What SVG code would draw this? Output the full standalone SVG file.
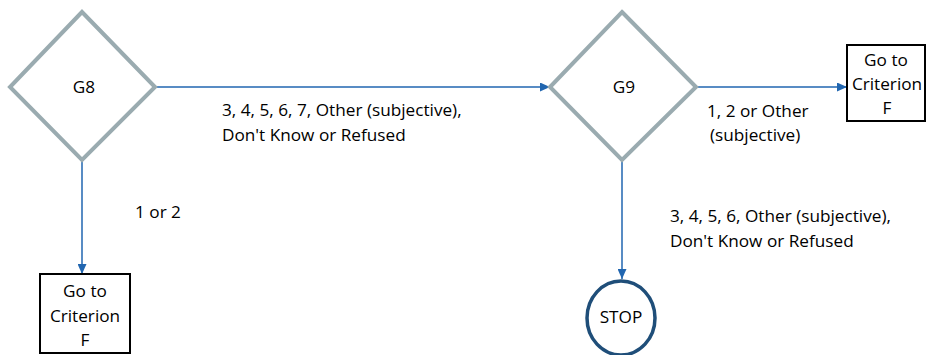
<svg xmlns="http://www.w3.org/2000/svg" width="927" height="355" viewBox="0 0 927 355">
  <style>
    .decision { fill: #ffffff; stroke: #9aabb0; stroke-width: 4; }
    .box { fill: #ffffff; stroke: #000000; stroke-width: 2; }
    .stop { fill: #ffffff; stroke: #1f4e79; stroke-width: 3.5; }
    .edge { fill: none; stroke: #2166b0; stroke-width: 1.5; marker-end: url(#arrow); }
    text { font-family: "Open Sans", "Liberation Sans", sans-serif; font-size: 17.2px; fill: #000000; }
    .c { text-anchor: middle; }
  </style>
  <defs>
    <marker id="arrow" viewBox="0 0 10 10" refX="10" refY="5" markerWidth="10" markerHeight="9" markerUnits="userSpaceOnUse" orient="auto" preserveAspectRatio="none">
      <path d="M0,0 L10,5 L0,10 z" fill="#2166b0"/>
    </marker>
  </defs>

  <g id="connectors">
    <line class="edge" x1="155" y1="87" x2="550" y2="87"/>
    <line class="edge" x1="82" y1="160" x2="82" y2="274"/>
    <line class="edge" x1="696" y1="87" x2="847" y2="87"/>
    <line class="edge" x1="622" y1="160" x2="622" y2="279"/>
    <text x="222" y="116">3, 4, 5, 6, 7, Other (subjective),</text>
    <text x="222" y="141">Don't Know or Refused</text>
    <text x="135" y="218">1 or 2</text>
    <text x="707" y="117">1, 2 or Other</text>
    <text x="710" y="141">(subjective)</text>
    <text x="670" y="222">3, 4, 5, 6, Other (subjective),</text>
    <text x="670" y="247">Don't Know or Refused</text>
  </g>

  <g id="G8">
    <polygon class="decision" points="82,12 155,87 82,160 10,87"/>
    <text class="c" x="84" y="93">G8</text>
  </g>

  <g id="G9">
    <polygon class="decision" points="622,12 696,87 622,160 550,87"/>
    <text class="c" x="624" y="93">G9</text>
  </g>

  <g id="criterionF-right">
    <rect class="box" x="847" y="45" width="78" height="76"/>
    <text class="c" x="886" y="66">Go to</text>
    <text class="c" x="887" y="90">Criterion</text>
    <text class="c" x="887" y="114">F</text>
  </g>

  <g id="criterionF-bottom">
    <rect class="box" x="40" y="274" width="90" height="79"/>
    <text class="c" x="85" y="297">Go to</text>
    <text class="c" x="85" y="322">Criterion</text>
    <text class="c" x="85" y="346">F</text>
  </g>

  <g id="stop">
    <ellipse class="stop" cx="621" cy="318" rx="34" ry="37"/>
    <text class="c" x="621" y="323">STOP</text>
  </g>
</svg>
